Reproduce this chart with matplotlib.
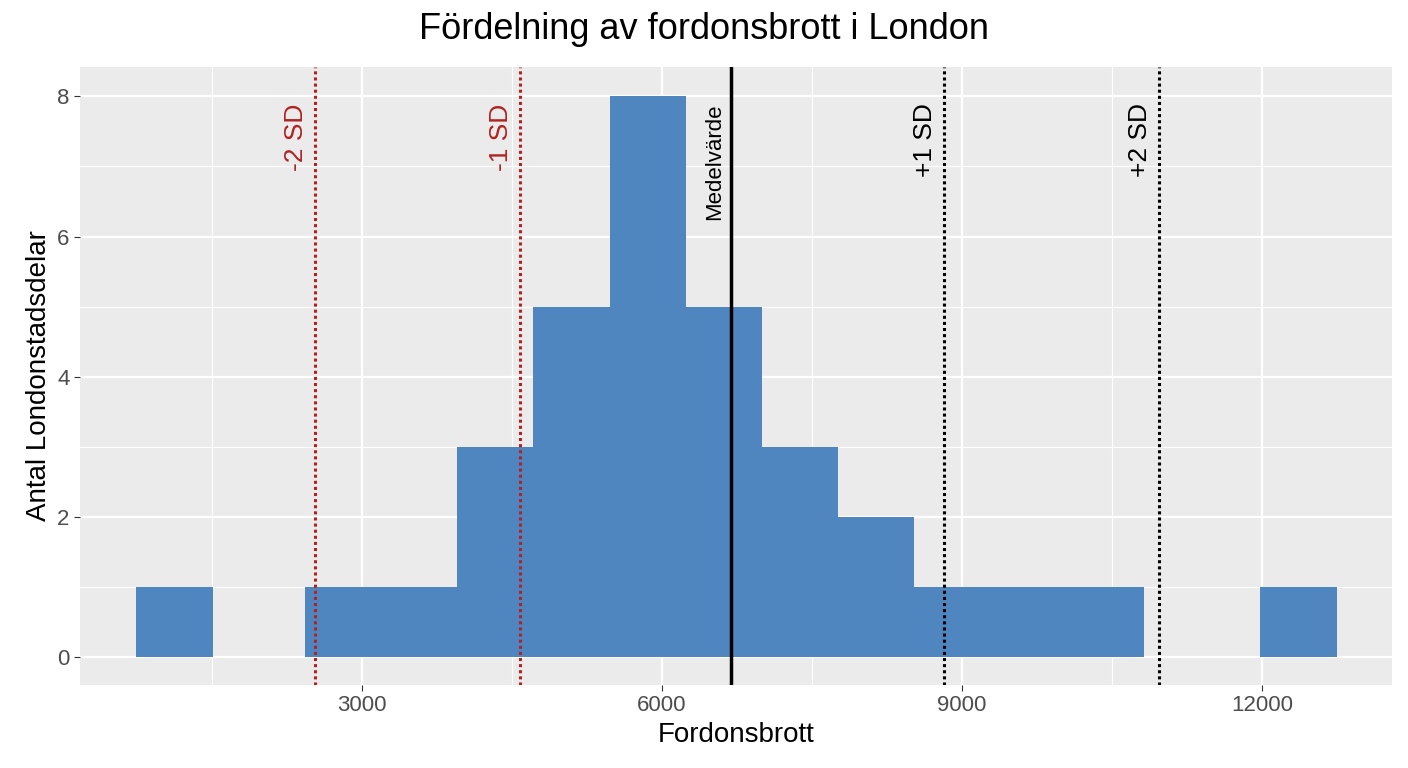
import matplotlib
matplotlib.use("Agg")
import matplotlib.pyplot as plt

plt.rcParams["font.family"] = ["Liberation Sans", "DejaVu Sans"]

# histogram bins (left edge, right edge, count)
bin_left = [740, 2430, 3190, 3950, 4710, 5480, 6240, 7000, 7760, 8520, 9290, 10050, 11980]
bin_right = [1510, 3190, 3950, 4710, 5480, 6240, 7000, 7760, 8520, 9290, 10050, 10820, 12750]
counts = [1, 1, 1, 3, 5, 8, 5, 3, 2, 1, 1, 1, 1]

medel = 6690
sd_lines = [(2530, "-2 SD", "#B22222"), (4580, "-1 SD", "#B22222"),
            (8820, "+1 SD", "black"), (10970, "+2 SD", "black")]

fig = plt.figure(figsize=(14.08, 7.68), dpi=100)
ax = fig.add_axes([80 / 1408, 83 / 768, 1312 / 1408, 618 / 768])
ax.set_facecolor("#EBEBEB")
for s in ax.spines.values():
    s.set_visible(False)

ax.set_xlim(180, 13300)
ax.set_ylim(-0.4, 8.42)
ax.set_xticks([3000, 6000, 9000, 12000])
ax.set_yticks([0, 2, 4, 6, 8])
ax.set_xticks([1500, 4500, 7500, 10500], minor=True)
ax.set_yticks([1, 3, 5, 7], minor=True)
ax.grid(True, which="major", color="white", linewidth=1.6)
ax.grid(True, which="minor", color="white", linewidth=0.8)
ax.set_axisbelow(True)
ax.tick_params(which="both", length=4, color="#333333", labelsize=16, labelcolor="#4D4D4D")
ax.tick_params(which="minor", length=0)

widths = [r - l for l, r in zip(bin_left, bin_right)]
ax.bar(bin_left, counts, width=widths, align="edge", color="#4F86C0", linewidth=0)

ax.axvline(medel, color="black", linewidth=2.5)
ax.text(medel - 60, 7.9, "Medelvärde", rotation=90, ha="right", va="top", fontsize=16)
for x, lab, col in sd_lines:
    ax.axvline(x, color=col, linewidth=2.2, linestyle=(0, (1, 1)))
    ax.text(x - 70, 7.9, lab, rotation=90, ha="right", va="top", fontsize=19, color=col)

ax.set_xlabel("Fordonsbrott", fontsize=20)
ax.set_ylabel("Antal Londonstadsdelar", fontsize=20)
fig.suptitle("Fördelning av fordonsbrott i London", fontsize=26, y=0.985)

fig.savefig("out.png", dpi=100)
